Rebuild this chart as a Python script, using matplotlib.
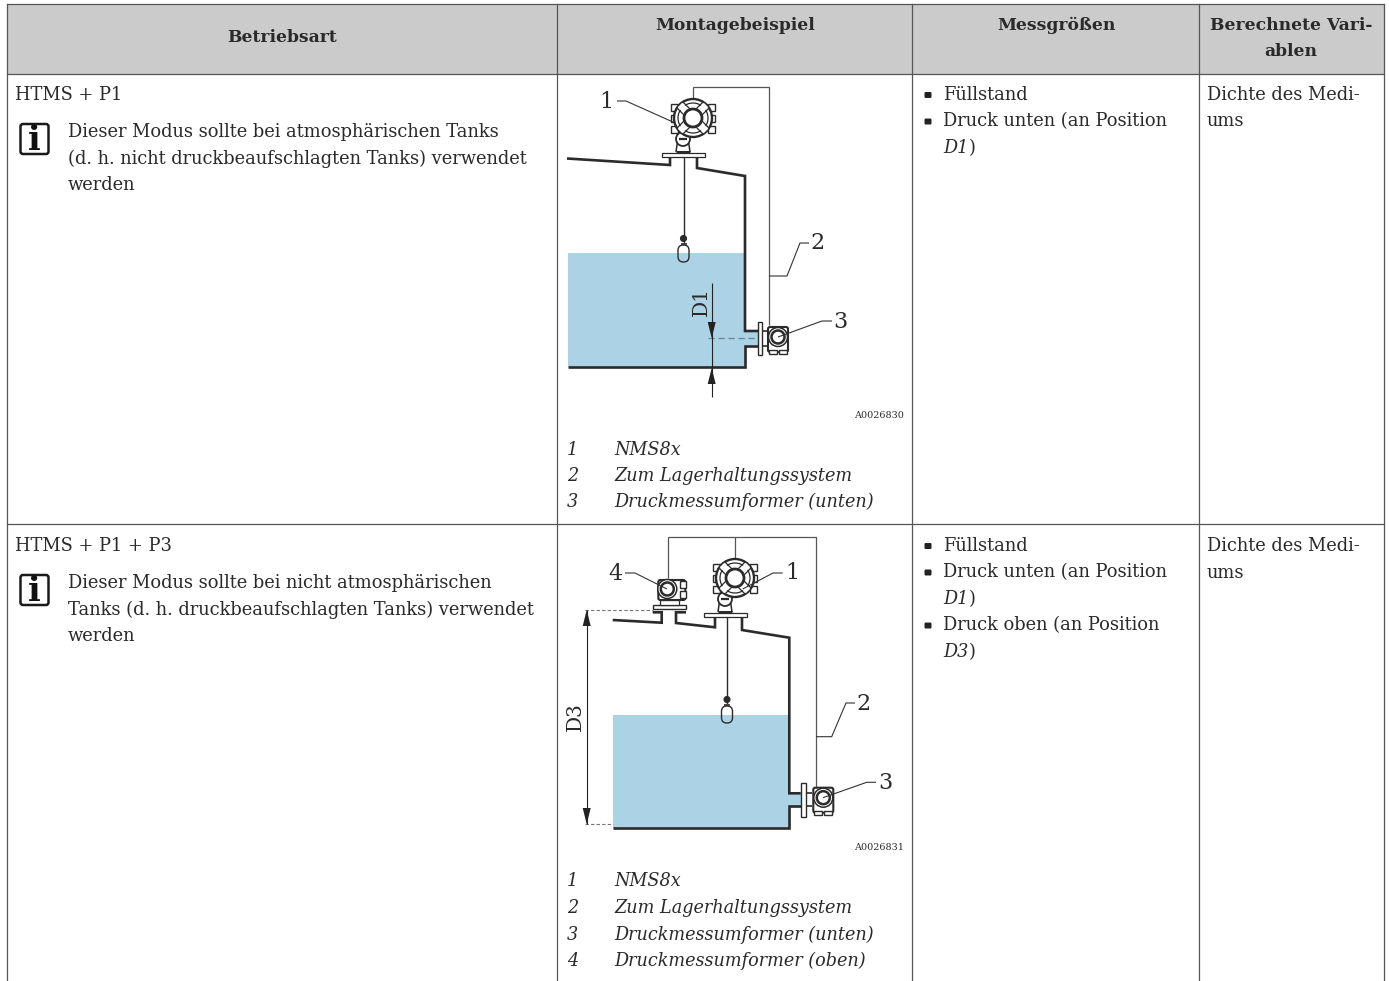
import matplotlib; matplotlib.use('Agg')
import matplotlib.pyplot as plt
from matplotlib.patches import Rectangle, Circle, FancyBboxPatch, Polygon

W, H = 1389, 981
FONT = 'DejaVu Serif'
FS = 12.85
FS_ITALIC = 12.7
FS_BOLD = 12.3
LINE = '#555555'
DARK = '#2b2b2b'
WATER = '#acd2e6'

# table content
headers = ['Betriebsart', 'Montagebeispiel', 'Messgrößen', 'Berechnete Vari-\nablen']
header_x = [282, 735, 1056, 1291]
header_y = [38, 25, 25, 25]
col_lines = [7, 557, 912, 1199, 1384]
row_lines = [4, 74, 524]

modes = ['HTMS + P1', 'HTMS + P1 + P3']
notes = [['Dieser Modus sollte bei atmosphärischen Tanks',
          '(d. h. nicht druckbeaufschlagten Tanks) verwendet', 'werden'],
         ['Dieser Modus sollte bei nicht atmosphärischen',
          'Tanks (d. h. druckbeaufschlagten Tanks) verwendet', 'werden']]
legend_1 = ['NMS8x', 'Zum Lagerhaltungssystem', 'Druckmessumformer (unten)']
legend_2 = legend_1 + ['Druckmessumformer (oben)']
legend_y_1 = [450, 476, 502]
legend_y_2 = [881, 908, 935, 961]
measured_1 = [('Füllstand', None), ('Druck unten (an Position', 'D1')]
measured_2 = [('Füllstand', None), ('Druck unten (an Position', 'D1'),
              ('Druck oben (an Position', 'D3')]
computed = ['Dichte des Medi-', 'ums']
row_top = [95, 546]

# diagram 1 outline
tank1_left = [(567, 158.5), (670, 165), (670, 156)]
tank1_right = [(697, 156), (697, 168), (745, 176), (745, 331), (758, 331)]
tank1_low = [(758, 346), (745, 346), (745, 367), (568, 367)]
water1 = [(568, 253), (745, 253), (745, 331), (758, 331), (758, 346), (745, 346), (745, 367), (568, 367)]
wire1 = [(693.3, 98), (693.3, 87), (769.3, 87), (769.3, 325)]

# diagram 2 outline
tank2_left = [(612.7, 620), (661.7, 622.7), (661.7, 612.3), (652.7, 612.3)]
tank2_mid = [(686, 612.3), (676, 612.3), (676, 623), (715, 627.3), (715, 616)]
tank2_right = [(742, 616), (742, 630), (789.3, 637.7), (789.3, 793.3), (800.7, 793.3)]
tank2_low = [(800.7, 805.7), (789.3, 805.7), (789.3, 828.3), (613, 828.3)]
water2 = [(613, 715), (789.3, 715), (789.3, 793.3), (800.7, 793.3), (800.7, 805.7), (789.3, 805.7), (789.3, 828.3), (613, 828.3)]
wire2 = [(667.7, 578), (667.7, 537), (815.7, 537), (815.7, 787)]
wire2_mid = [(735, 537), (735, 560)]

fig = plt.figure(figsize=(W / 100, H / 100), dpi=100)
ax = fig.add_axes([0, 0, 1, 1])
ax.set_xlim(0, W); ax.set_ylim(H, 0); ax.axis('off')


def poly(pts, color=DARK, lw=1.9, **kw):
    ax.plot([p[0] for p in pts], [p[1] for p in pts], color=color, lw=lw,
            solid_joinstyle='miter', solid_capstyle='butt', **kw)


def txt(x, y, s, size=FS, ha='left', va='center', **kw):
    kw.setdefault('color', '#2a2a2a')
    return ax.text(x, y, s, fontsize=size, family=FONT, ha=ha, va=va, **kw)


def nms(cx, cy):
    # side tabs
    for dy in (-14, -3, 8):
        for dx in (-22, 15):
            ax.add_patch(Rectangle((cx + dx, cy + dy), 7, 7, fc='white', ec=DARK, lw=1.0, zorder=3))
    # bracket + flange
    poly([(cx - 17, cy + 34), (cx - 15, cy + 20)], lw=1.1, zorder=3)
    poly([(cx - 3, cy + 34), (cx - 5, cy + 20)], lw=1.1, zorder=3)
    poly([(cx - 17, cy + 33.5), (cx - 3, cy + 33.5)], lw=2.2, zorder=3)
    ax.add_patch(Rectangle((cx - 31, cy + 35), 43, 4, fc='white', ec=DARK, lw=0.9, zorder=3))
    ax.add_patch(Circle((cx - 10, cy + 21), 7, fc='white', ec=DARK, lw=1.3, zorder=4))
    poly([(cx - 14, cy + 21), (cx - 6, cy + 21)], lw=1.6, zorder=5)
    # housing
    ax.add_patch(Circle((cx, cy), 19, fc='white', ec=DARK, lw=1.7, zorder=4))
    ax.add_patch(Circle((cx, cy), 15, fc='white', ec=DARK, lw=0.9, zorder=5))
    for sx, sy in [(1, 1), (-1, -1), (1, -1), (-1, 1)]:
        poly([(cx + sx * 6, cy + sy * 6), (cx + sx * 13, cy + sy * 13)], color='white', lw=4.5, zorder=6)
        poly([(cx + sx * 6 - sy * 3, cy + sy * 6 + sx * 3), (cx + sx * 13 - sy * 3, cy + sy * 13 + sx * 3)], lw=0.9, zorder=6)
        poly([(cx + sx * 6 + sy * 3, cy + sy * 6 - sx * 3), (cx + sx * 13 + sy * 3, cy + sy * 13 - sx * 3)], lw=0.9, zorder=6)
    ax.add_patch(Circle((cx, cy), 9, fc='white', ec=DARK, lw=2.0, zorder=7))


def transmitter(cx, cy, sideways=False):
    if sideways:
        ax.add_patch(FancyBboxPatch((cx - 9, cy - 9), 27, 20, boxstyle='round,pad=0,rounding_size=2',
                                    fc='white', ec=DARK, lw=1.5, zorder=3))
        ax.add_patch(Rectangle((cx + 13, cy - 8), 6, 7, fc='white', ec=DARK, lw=1.0, zorder=3))
        ax.add_patch(Rectangle((cx + 13, cy + 2), 6, 7, fc='white', ec=DARK, lw=1.0, zorder=3))
    else:
        ax.add_patch(FancyBboxPatch((cx - 10, cy - 10), 20, 25, boxstyle='round,pad=0,rounding_size=2',
                                    fc='white', ec=DARK, lw=1.5, zorder=3))
        ax.add_patch(Rectangle((cx - 9, cy + 13), 8, 4, fc='white', ec=DARK, lw=1.0, zorder=3))
        ax.add_patch(Rectangle((cx + 1, cy + 13), 8, 4, fc='white', ec=DARK, lw=1.0, zorder=3))
    ax.add_patch(Circle((cx, cy), 9.5, fc='white', ec=DARK, lw=1.1, zorder=4))
    ax.add_patch(Circle((cx, cy), 6.5, fc='white', ec=DARK, lw=1.8, zorder=5))


def float_gauge(x, y_top, y_float):
    poly([(x, y_top), (x, y_float - 11)], lw=1.0)
    ax.add_patch(Circle((x, y_float - 15), 3, fc=DARK, ec=DARK, lw=0.8, zorder=3))
    poly([(x - 3, y_float - 10), (x + 3, y_float - 10)], lw=1.2, zorder=3)
    ax.add_patch(FancyBboxPatch((x - 5.5, y_float - 8.5), 11, 17, boxstyle='round,pad=0,rounding_size=5.4',
                                fc='none', ec=DARK, lw=1.0, zorder=3))


def arrow(x, tip, base):
    ax.add_patch(Polygon([(x, tip), (x - 4, base), (x + 4, base)], fc='#222222', ec='none', zorder=4))


def info_icon(y):
    ax.add_patch(FancyBboxPatch((20.5, y), 28, 30, boxstyle='round,pad=0,rounding_size=2.5',
                                fc='white', ec='#1a1a1a', lw=1.8))
    txt(34.5, y + 16.5, 'i', size=24, ha='center', fontweight='bold', color='#111111')


def leader(pts):
    poly(pts, color='#333333', lw=0.8, zorder=8)


# table frame
ax.add_patch(Rectangle((col_lines[0], row_lines[0]), col_lines[-1] - col_lines[0],
                       row_lines[1] - row_lines[0], fc='#cbcbcb', ec='none'))
for x in col_lines:
    ax.plot([x, x], [row_lines[0], H], color=LINE, lw=0.9)
for y in row_lines:
    ax.plot([col_lines[0], col_lines[-1]], [y, y], color=LINE, lw=0.9)
for h, x, y in zip(headers, header_x, header_y):
    if '\n' in h:
        a, b = h.split('\n')
        txt(x, y, a, size=FS_BOLD, ha='center', fontweight='bold')
        txt(x, y + 26, b, size=FS_BOLD, ha='center', fontweight='bold')
    else:
        txt(x, y, h, size=FS_BOLD, ha='center', fontweight='bold')

# text columns
renderer = fig.canvas.get_renderer()
for i, top in enumerate(row_top):
    txt(15, top, modes[i])
    for k, line in enumerate(notes[i]):
        txt(68, top + 37 + k * 26.5, line)
    info_icon(top + 29)
    y = top
    for label, pos in (measured_1 if i == 0 else measured_2):
        ax.add_patch(FancyBboxPatch((924.5, y - 3), 7, 6, boxstyle='round,pad=0,rounding_size=1.2',
                                    fc='#222222', ec='none'))
        txt(943, y, label)
        y += 26.5
        if pos:
            t = txt(943, y, pos, size=FS_ITALIC, style='italic')
            txt(943 + t.get_window_extent(renderer).width, y, ')')
            y += 26.5
    for k, line in enumerate(computed):
        txt(1207, top + k * 26.5, line)

for n, (label, y) in enumerate(zip(legend_1, legend_y_1)):
    txt(567, y, str(n + 1), size=FS_ITALIC, style='italic')
    txt(614, y, label, size=FS_ITALIC, style='italic')
for n, (label, y) in enumerate(zip(legend_2, legend_y_2)):
    txt(567, y, str(n + 1), size=FS_ITALIC, style='italic')
    txt(614, y, label, size=FS_ITALIC, style='italic')

# diagram 1
ax.add_patch(Polygon(water1, fc=WATER, ec='none'))
poly(wire1, color=LINE, lw=0.9)
float_gauge(683.5, 157, 253.5)
poly(tank1_left); poly(tank1_right); poly(tank1_low)
ax.add_patch(Rectangle((758, 322), 4, 33, fc='white', ec=DARK, lw=1.0, zorder=3))
poly([(762, 331), (768, 331)], lw=1.2); poly([(762, 346), (768, 346)], lw=1.2)
nms(693, 118)
transmitter(778, 337)
poly([(708, 338), (757, 338)], color='#6f8290', lw=0.9, ls=(0, (5, 3)), zorder=2)
poly([(711.7, 283), (711.7, 397)], color='#222222', lw=0.8, zorder=3)
arrow(711.7, 338, 322)
arrow(711.7, 368, 384)
txt(701, 301, 'D1', size=14.5, rotation=90, ha='center')
leader([(617, 101), (626, 101), (673, 122)])
leader([(769, 276), (787, 276), (800, 243), (809, 243)])
leader([(778, 337), (822, 321), (832, 321)])
txt(606.5, 102, '1', size=16, ha='center')
txt(817.5, 243, '2', size=16, ha='center')
txt(840, 322, '3', size=16, ha='center')
txt(904, 416, 'A0026830', size=6.9, ha='right')

# diagram 2
ax.add_patch(Polygon(water2, fc=WATER, ec='none'))
poly(wire2, color=LINE, lw=0.9); poly(wire2_mid, color=LINE, lw=0.9)
float_gauge(727, 616, 714.5)
poly(tank2_left); poly(tank2_mid); poly(tank2_right); poly(tank2_low)
ax.add_patch(Rectangle((652.7, 605), 33.3, 4, fc='white', ec=DARK, lw=1.0, zorder=3))
ax.add_patch(Rectangle((660, 600), 19, 5, fc='white', ec=DARK, lw=0.9, zorder=3))
ax.add_patch(Rectangle((801, 783), 5, 33.5, fc='white', ec=DARK, lw=1.0, zorder=3))
poly([(806, 793.3), (812, 793.3)], lw=1.2); poly([(806, 805.7), (812, 805.7)], lw=1.2)
nms(735, 578)
transmitter(823.3, 797.7)
transmitter(667.3, 589, sideways=True)
poly([(585, 610), (652.7, 610)], color='#777777', lw=0.8, ls=(0, (3, 2)))
poly([(585, 824.3), (613, 824.3)], color='#777777', lw=0.8, ls=(0, (3, 2)))
poly([(586.7, 610), (586.7, 824.3)], color='#222222', lw=0.8)
arrow(586.7, 610, 626)
arrow(586.7, 824.3, 808)
txt(575, 716.5, 'D3', size=14.5, rotation=90, ha='center')
leader([(742.7, 589), (773, 573), (782.7, 573)])
leader([(816, 736.7), (831.7, 736.7), (846, 703), (855, 703)])
leader([(823, 797.7), (866.7, 782.3), (876, 782.3)])
leader([(667, 589), (635, 573), (625, 573)])
txt(792.7, 573, '1', size=16, ha='center')
txt(864, 704, '2', size=16, ha='center')
txt(885, 783, '3', size=16, ha='center')
txt(615, 574, '4', size=16, ha='center')
txt(904, 848, 'A0026831', size=6.9, ha='right')

fig.savefig('out.png', dpi=100)
